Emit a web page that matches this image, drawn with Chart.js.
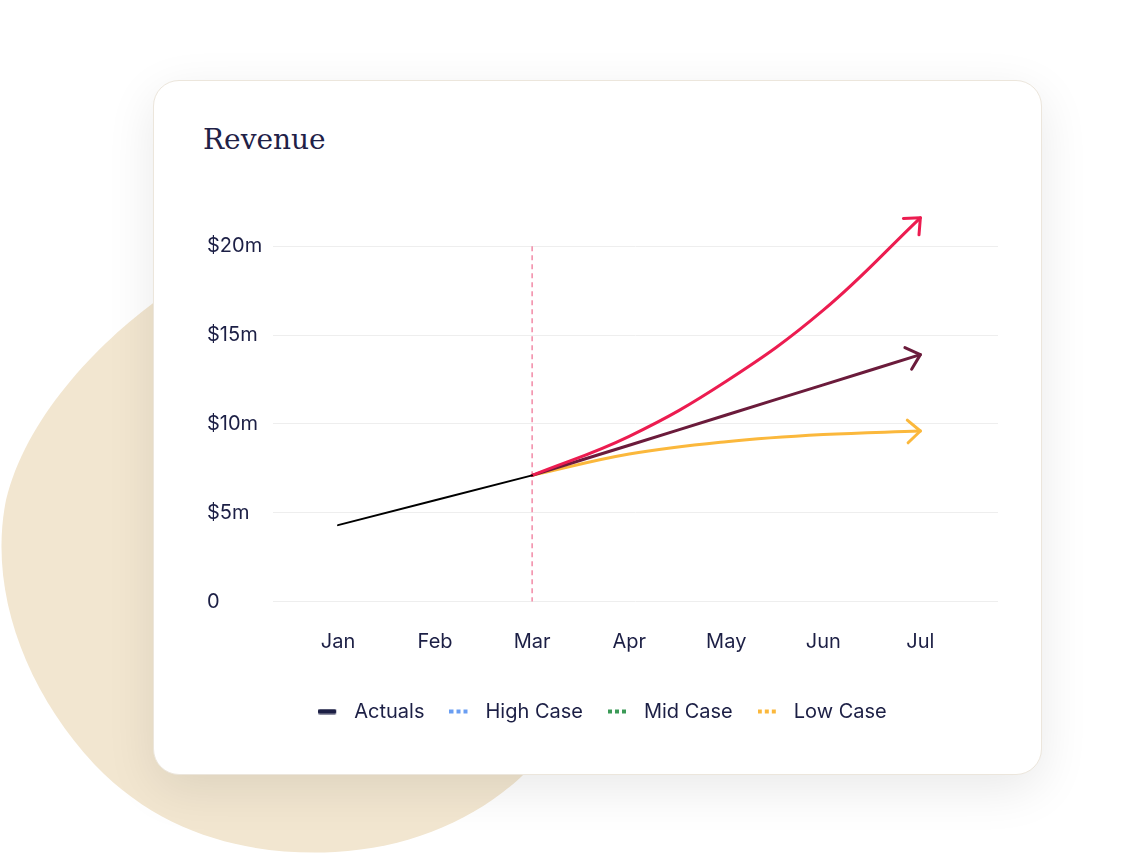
<!DOCTYPE html>
<html>
<head>
<meta charset="utf-8">
<title>Revenue</title>
<script src="https://cdn.jsdelivr.net/npm/chart.js@4.4.1/dist/chart.umd.min.js"></script>
<style>
  html, body { margin: 0; padding: 0; background: #fff; }
  body { width: 1121px; height: 855px; position: relative; overflow: hidden; }
  #blob { position: absolute; left: 0; top: 0; }
  .card {
    position: absolute; left: 153px; top: 80px; width: 887px; height: 693px;
    background: #fff; border: 1px solid #ece6dc; border-radius: 26px;
    box-shadow: 0 14px 50px rgba(0, 0, 0, 0.09);
  }
  h1 {
    position: absolute; left: 203px; top: 126px; margin: 0;
    font-family: 'DejaVu Serif', serif; font-weight: normal; font-size: 28px;
    line-height: 28px; color: #1f2147;
  }
  #wrap { position: absolute; left: 197px; top: 170.5px; width: 820px; height: 570px; }
</style>
</head>
<body>
<svg id="blob" width="1121" height="855">
  <path d="M 160 298 C 95 345, 25 420, 6 500 C -12 590, 25 690, 95 765 C 165 838, 255 856, 335 852 C 415 848, 485 815, 530 768 L 530 298 Z" fill="#f2e6d0"/>
</svg>
<div class="card"></div>
<h1>Revenue</h1>
<div id="wrap"><canvas id="chart"></canvas></div>

<script>
// dados (valores em milhões de dólares)
const months = ['Jan', 'Feb', 'Mar', 'Apr', 'May', 'Jun', 'Jul'];
const actualMonths = [0, 1, 2];
const actualValues = [4.3, 5.7, 7.1];
const forecastMonths = [2, 3, 4, 5, 6];
const highCase = [7.1, 9.3, 12.4, 16.4, 21.6];
const midCase = [7.1, 8.8, 10.5, 12.2, 13.9];
const lowCase = [7.1, 8.3, 9.0, 9.4, 9.6];
const yTicks = [0, 5, 10, 15, 20];
const markerMonth = 2;

const legendNames = ['Actuals', 'High Case', 'Mid Case', 'Low Case'];
const legendColors = ['#1c1f45', '#6a9ef2', '#3b9a57', '#fbb83c'];
const lineColors = ['#000000', '#ec1c50', '#6b1b3b', '#fbb83c'];

const textColor = '#1c1f45';
const tickFont = { family: 'Inter', size: 20 };

const toPoints = (xs, ys) => xs.map((x, i) => ({ x: x, y: ys[i] }));

// amostra da legenda: tracinho curto (cheio ou pontilhado)
function legendSwatch(color, solid) {
    const c = document.createElement('canvas');
    c.width = 26;
    c.height = 6;
    const g = c.getContext('2d');
    g.fillStyle = color;
    if (solid) {
        g.beginPath();
        g.roundRect(0, 0.5, 18, 5, 1.5);
        g.fill();
    } else {
        for (let x = 0; x < 18; x += 7) g.fillRect(x, 1, 4, 4);
    }
    return c;
}

// linha vertical tracejada no mês atual
const markerPlugin = {
    id: 'marker',
    beforeDatasetsDraw(chart) {
        const { ctx, scales } = chart;
        const x = scales.x.getPixelForValue(markerMonth);
        ctx.save();
        ctx.strokeStyle = '#f28aa6';
        ctx.lineWidth = 1.5;
        ctx.setLineDash([5, 4]);
        ctx.beginPath();
        ctx.moveTo(x, scales.y.getPixelForValue(yTicks[yTicks.length - 1]));
        ctx.lineTo(x, scales.y.getPixelForValue(0));
        ctx.stroke();
        ctx.restore();
    }
};

// setas abertas no fim das projeções
const arrowPlugin = {
    id: 'arrows',
    afterDatasetsDraw(chart) {
        const ctx = chart.ctx;
        chart.data.datasets.forEach((ds, i) => {
            if (!ds.arrow) return;
            const pts = chart.getDatasetMeta(i).data;
            const end = pts[pts.length - 1];
            const prev = pts[pts.length - 2];
            let fx = end.cp1x, fy = end.cp1y;
            if (fx === undefined || Math.hypot(end.x - fx, end.y - fy) < 1) { fx = prev.x; fy = prev.y; }
            const back = Math.atan2(fy - end.y, fx - end.x);
            const len = 17, spread = 0.73;
            ctx.save();
            ctx.strokeStyle = ds.borderColor;
            ctx.lineWidth = 3;
            ctx.lineCap = 'round';
            ctx.lineJoin = 'round';
            ctx.beginPath();
            ctx.moveTo(end.x + len * Math.cos(back + spread), end.y + len * Math.sin(back + spread));
            ctx.lineTo(end.x, end.y);
            ctx.lineTo(end.x + len * Math.cos(back - spread), end.y + len * Math.sin(back - spread));
            ctx.stroke();
            ctx.restore();
        });
    }
};

const ctx = document.getElementById('chart').getContext('2d');
new Chart(ctx, {
    type: 'line',
    data: {
        datasets: [
            { label: legendNames[0], data: toPoints(actualMonths, actualValues), borderColor: lineColors[0], borderWidth: 2, tension: 0 },
            { label: legendNames[1], data: toPoints(forecastMonths, highCase), borderColor: lineColors[1], borderWidth: 3, tension: 0.4, arrow: true },
            { label: legendNames[2], data: toPoints(forecastMonths, midCase), borderColor: lineColors[2], borderWidth: 3, tension: 0.4, arrow: true },
            { label: legendNames[3], data: toPoints(forecastMonths, lowCase), borderColor: lineColors[3], borderWidth: 3, tension: 0.4, arrow: true }
        ]
    },
    options: {
        responsive: true,
        maintainAspectRatio: false,
        animation: false,
        clip: false,
        elements: { point: { radius: 0 }, line: { borderCapStyle: 'round', borderJoinStyle: 'round' } },
        layout: { padding: { left: 10, right: 19, top: 2, bottom: 9.5 } },
        scales: {
            x: {
                type: 'linear',
                min: -0.67,
                max: 6.8,
                afterBuildTicks: axis => { axis.ticks = months.map((m, i) => ({ value: i })); },
                afterFit: axis => { axis.height += 3; },
                ticks: { callback: v => months[v], color: textColor, font: tickFont, padding: 20, maxRotation: 0 },
                grid: { display: false },
                border: { display: false }
            },
            y: {
                min: 0,
                max: 23,
                afterBuildTicks: axis => { axis.ticks = yTicks.map(v => ({ value: v })); },
                afterFit: axis => { axis.width = 66; },
                ticks: { callback: v => v === 0 ? '0' : '$' + v + 'm', color: textColor, font: tickFont, crossAlign: 'far', padding: 10 },
                grid: { color: '#eeeeee', lineWidth: 1, drawTicks: false },
                border: { display: false }
            }
        },
        plugins: {
            legend: {
                position: 'bottom',
                labels: {
                    usePointStyle: true,
                    pointStyleWidth: 26,
                    padding: 25,
                    color: textColor,
                    font: tickFont,
                    generateLabels: () => legendNames.map((name, i) => ({
                        text: name,
                        pointStyle: legendSwatch(legendColors[i], i === 0),
                        fontColor: textColor,
                        lineWidth: 0,
                        hidden: false,
                        datasetIndex: i
                    }))
                }
            },
            tooltip: { enabled: false }
        }
    },
    plugins: [markerPlugin, arrowPlugin]
});
</script>
</body>
</html>
